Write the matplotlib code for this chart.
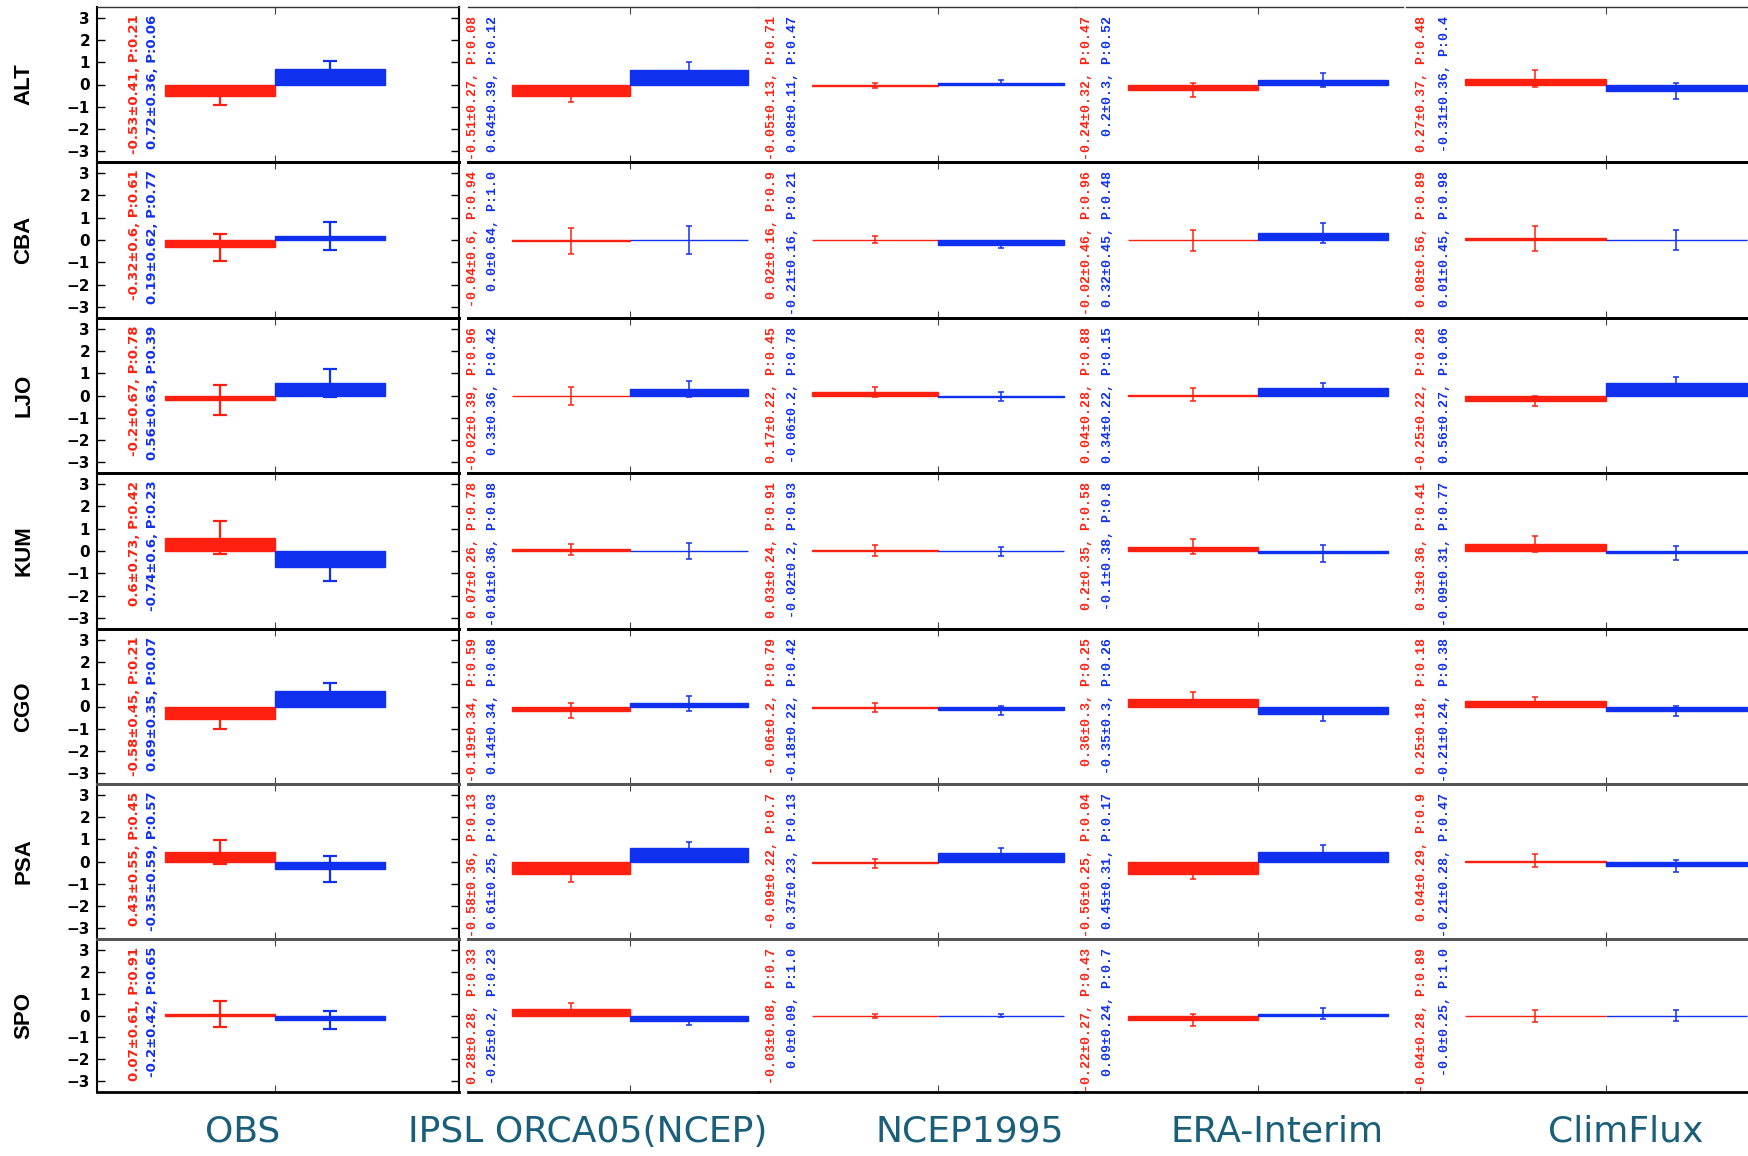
import matplotlib
matplotlib.use('Agg')
import matplotlib.pyplot as plt

stations = ['ALT', 'CBA', 'LJO', 'KUM', 'CGO', 'PSA', 'SPO']
datasets = ['OBS', 'IPSL ORCA05(NCEP)', 'NCEP1995', 'ERA-Interim', 'ClimFlux']

# red series (one row per station, one column per dataset)
red_mean = [[-0.53, -0.51, -0.05, -0.24, 0.27],
            [-0.32, -0.04, 0.02, -0.02, 0.08],
            [-0.2, -0.02, 0.17, 0.04, -0.25],
            [0.6, 0.07, 0.03, 0.2, 0.3],
            [-0.58, -0.19, -0.06, 0.36, 0.25],
            [0.43, -0.58, -0.09, -0.56, 0.04],
            [0.07, 0.28, -0.03, -0.22, -0.04]]
red_std = [[0.41, 0.27, 0.13, 0.32, 0.37],
           [0.6, 0.6, 0.16, 0.46, 0.56],
           [0.67, 0.39, 0.22, 0.28, 0.22],
           [0.73, 0.26, 0.24, 0.35, 0.36],
           [0.45, 0.34, 0.2, 0.3, 0.18],
           [0.55, 0.36, 0.22, 0.25, 0.29],
           [0.61, 0.28, 0.08, 0.27, 0.28]]
red_p = [[0.21, 0.08, 0.71, 0.47, 0.48],
         [0.61, 0.94, 0.9, 0.96, 0.89],
         [0.78, 0.96, 0.45, 0.88, 0.28],
         [0.42, 0.78, 0.91, 0.58, 0.41],
         [0.21, 0.59, 0.79, 0.25, 0.18],
         [0.45, 0.13, 0.7, 0.04, 0.9],
         [0.91, 0.33, 0.7, 0.43, 0.89]]

# blue series
blue_mean = [[0.72, 0.64, 0.08, 0.2, -0.31],
             [0.19, 0.0, -0.21, 0.32, 0.01],
             [0.56, 0.3, -0.06, 0.34, 0.56],
             [-0.74, -0.01, -0.02, -0.1, -0.09],
             [0.69, 0.14, -0.18, -0.35, -0.21],
             [-0.35, 0.61, 0.37, 0.45, -0.21],
             [-0.2, -0.25, 0.0, 0.09, -0.0]]
blue_std = [[0.36, 0.39, 0.11, 0.3, 0.36],
            [0.62, 0.64, 0.16, 0.45, 0.45],
            [0.63, 0.36, 0.2, 0.22, 0.27],
            [0.6, 0.36, 0.2, 0.38, 0.31],
            [0.35, 0.34, 0.22, 0.3, 0.24],
            [0.59, 0.25, 0.23, 0.31, 0.28],
            [0.42, 0.2, 0.09, 0.24, 0.25]]
blue_p = [[0.06, 0.12, 0.47, 0.52, 0.4],
          [0.77, 1.0, 0.21, 0.48, 0.98],
          [0.39, 0.42, 0.78, 0.15, 0.06],
          [0.23, 0.98, 0.93, 0.8, 0.77],
          [0.07, 0.68, 0.42, 0.26, 0.38],
          [0.57, 0.03, 0.13, 0.17, 0.47],
          [0.65, 0.23, 1.0, 0.7, 1.0]]

RED = '#ff2010'
BLUE = '#1030f0'
LABEL_COLOR = '#1a5f7a'

# layout in pixels of the 1749x1156 canvas
W, H = 1749, 1156
col_edges = [(97, 459), (468, 758), (758, 1075), (1075, 1403), (1406, 1749)]
col_center = [(275, 110), (630, 118), (938, 126), (1258, 130), (1606, 141)]
col_text = [(135, 153), (473, 493), (772, 793), (1087, 1108), (1422, 1445)]
row_edges = [7, 162, 318, 473, 629, 784, 939, 1092]
sep_colors = ['#333333', 'k', 'k', 'k', 'k', '#555555', '#555555', 'k']
label_x = [243, 588, 970, 1277, 1626]


def fmt(v):
    return str(float(v))


fig = plt.figure(figsize=(W / 100, H / 100), dpi=100)

for i, st in enumerate(stations):
    top, bot = row_edges[i], row_edges[i + 1]
    for j, ds in enumerate(datasets):
        L, R = col_edges[j]
        c, hw = col_center[j]
        ax = fig.add_axes([L / W, 1 - bot / H, (R - L) / W, (bot - top) / H])
        ax.patch.set_visible(False)
        ax.set_xlim((L - c) / hw, (R - c) / hw)
        ax.set_ylim(-3.5, 3.5)
        obs = j == 0
        elw = 1.6 if obs else 1.1
        cap = 4.7 if obs else 2.3

        series = [(red_mean, red_std, red_p, RED, -0.5),
                  (blue_mean, blue_std, blue_p, BLUE, 0.5)]
        for k, (mean, std, pv, color, x) in enumerate(series):
            m, s, p = mean[i][j], std[i][j], pv[i][j]
            ax.bar(x, m, width=1.0, color=color, edgecolor=color,
                   linewidth=1.0, zorder=2)
            ax.errorbar(x, m, yerr=s, fmt='none', ecolor=color, elinewidth=elw,
                        capsize=cap, capthick=elw, zorder=3)
            label = f"{fmt(m)}\u00b1{fmt(s)}, P:{fmt(p)}"
            tx = (col_text[j][k] - c) / hw
            if obs:
                ax.text(tx, 3.15, label, rotation=90, ha='center', va='top',
                        color=color, fontsize=9.5, fontweight='bold',
                        family='DejaVu Sans', zorder=5)
            else:
                ax.text(tx, 3.1, label, rotation=90, ha='center', va='top',
                        color=color, fontsize=9.5, fontweight='bold',
                        family='Liberation Mono', zorder=5)

        ax.set_xticks([0])
        ax.set_xticklabels([])
        ax.tick_params(axis='x', direction='in', top=True, bottom=True,
                       length=5, width=0.8, color='#444444')
        if obs:
            ax.set_yticks(range(-3, 4))
            ax.tick_params(axis='y', direction='in', left=True, right=True,
                           length=6, width=1, labelsize=11, pad=5)
            for t in ax.get_yticklabels():
                t.set_fontweight('bold')
            ax.spines['left'].set_linewidth(1.5)
            ax.spines['right'].set_linewidth(1.5)
        else:
            ax.set_yticks([])
            ax.spines['left'].set_visible(False)
            ax.spines['right'].set_visible(False)
        ax.spines['top'].set_linewidth(1.0 if i == 0 else 2.0)
        ax.spines['top'].set_color(sep_colors[i])
        ax.spines['bottom'].set_linewidth(2.0)
        ax.spines['bottom'].set_color(sep_colors[i + 1])

    fig.text(24 / W, 1 - (top + bot) / 2 / H, st, rotation=90, ha='center',
             va='center', fontsize=16, fontweight='bold', family='Liberation Sans')

for j, ds in enumerate(datasets):
    fig.text(label_x[j] / W, 1 - 1142 / H, ds, ha='center', va='baseline',
             fontsize=26, color=LABEL_COLOR)

fig.savefig('out.png', dpi=100, facecolor='white')
